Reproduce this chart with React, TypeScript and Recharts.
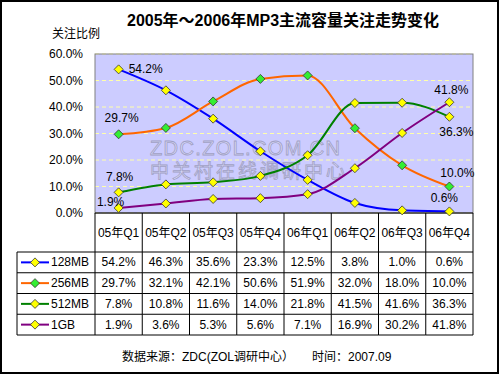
import React from "react";
import {
  LineChart,
  Line,
  XAxis,
  YAxis,
  CartesianGrid,
  ReferenceArea,
  LabelList,
} from "recharts";

const quarters = ["05年Q1", "05年Q2", "05年Q3", "05年Q4", "06年Q1", "06年Q2", "06年Q3", "06年Q4"];
const mb128 = [54.2, 46.3, 35.6, 23.3, 12.5, 3.8, 1.0, 0.6];
const mb256 = [29.7, 32.1, 42.1, 50.6, 51.9, 32.0, 18.0, 10.0];
const mb512 = [7.8, 10.8, 11.6, 14.0, 21.8, 41.5, 41.6, 36.3];
const gb1 = [1.9, 3.6, 5.3, 5.6, 7.1, 16.9, 30.2, 41.8];
const seriesNames = ["128MB", "256MB", "512MB", "1GB"];
const seriesValues = [mb128, mb256, mb512, gb1];
const yTicks = [0, 10, 20, 30, 40, 50, 60];

const FONT = '"Liberation Sans", Arial, "Noto Sans CJK SC", sans-serif';
const lineColors = ["#0000FF", "#FF6600", "#008000", "#800080"];
const dotColors = ["#FFFF00", "#33EE33", "#FFFF00", "#FFFF00"];
// label offsets (dx, dy) for the first and last point of each line
const labelOffsets = [
  { first: [10, 0, "start"], last: [-5, -13, "middle"] },
  { first: [3, -16, "middle"], last: [8, -14, "middle"] },
  { first: [1, -15, "middle"], last: [7, 15, "middle"] },
  { first: [-8, -6, "middle"], last: [2, -12, "middle"] },
];

const data = quarters.map((q, i) => {
  const row: any = { q };
  seriesNames.forEach((name, s) => {
    row[name] = seriesValues[s][i];
  });
  return row;
});

const colW = 378 / 8;
const headH = 39;
const rowH = 20.75;
const legendW = 78;

const Diamond = ({ cx, cy, fill }: { cx: number; cy: number; fill: string }) => (
  <path
    d={`M${cx},${cy - 4.5} L${cx + 4.5},${cy} L${cx},${cy + 4.5} L${cx - 4.5},${cy} Z`}
    fill={fill}
    stroke="#333"
    strokeWidth={0.8}
  />
);

const TableTick = (props: any) => {
  const { x, y, index, payload } = props;
  const left = x - colW / 2;
  const right = x + colW / 2;
  const bottom = y + headH + rowH * 4;
  const legLeft = left - legendW;
  return (
    <g>
      <text x={x} y={y + headH / 2} textAnchor="middle" dominantBaseline="central" fontSize={12} fontFamily={FONT} fill="#000">
        {payload.value}
      </text>
      <line x1={right} y1={y} x2={right} y2={bottom} stroke="#000" />
      {index === 0 && <line x1={left} y1={y} x2={left} y2={bottom} stroke="#000" />}
      {index === 0 && <line x1={legLeft} y1={y + headH} x2={legLeft} y2={bottom} stroke="#000" />}
      {[0, 1, 2, 3, 4].map((r) => (
        <line
          key={r}
          x1={index === 0 ? legLeft : left}
          y1={y + headH + r * rowH}
          x2={right}
          y2={y + headH + r * rowH}
          stroke="#000"
        />
      ))}
      {seriesValues.map((vals, s) => {
        const cy = y + headH + s * rowH + rowH / 2;
        return (
          <g key={s}>
            <text x={x} y={cy} textAnchor="middle" dominantBaseline="central" fontSize={12} fontFamily={FONT} fill="#000">
              {vals[index].toFixed(1) + "%"}
            </text>
            {index === 0 && (
              <g>
                <line x1={legLeft + 4} y1={cy} x2={legLeft + 32} y2={cy} stroke={lineColors[s]} strokeWidth={2} />
                <Diamond cx={legLeft + 18} cy={cy} fill={dotColors[s]} />
                <text x={legLeft + 34} y={cy} dominantBaseline="central" fontSize={12} fontFamily={FONT} fill="#000">
                  {seriesNames[s]}
                </text>
              </g>
            )}
          </g>
        );
      })}
    </g>
  );
};

const makeLabel = (s: number) => (props: any) => {
  const { x, y, index, value } = props;
  const last = quarters.length - 1;
  if (index !== 0 && index !== last) return null;
  const [dx, dy, anchor] = index === 0 ? labelOffsets[s].first : labelOffsets[s].last;
  return (
    <text
      x={x + (dx as number)}
      y={y + (dy as number)}
      textAnchor={anchor as any}
      dominantBaseline="central"
      fontSize={12}
      fontFamily={FONT}
      fill="#000"
    >
      {Number(value).toFixed(1) + "%"}
    </text>
  );
};

const PlotFrame = (p: any) => (
  <g>
    <text
      x={p.x + 55}
      y={p.y + 94}
      dominantBaseline="central"
      fontSize={20}
      fontFamily={FONT}
      textLength={190}
      fill="#D8D8F8"
      stroke="#A0A0C4"
      strokeWidth={0.8}
    >
      ZDC.ZOL.COM.CN
    </text>
    <text
      x={p.x + 55}
      y={p.y + 117}
      dominantBaseline="central"
      fontSize={19}
      fontFamily={FONT}
      textLength={195}
      fill="#D8D8F8"
      stroke="#A0A0C4"
      strokeWidth={0.8}
    >
      中关村在线调研中心
    </text>
    <rect x={p.x} y={p.y} width={p.width} height={p.height} fill="none" stroke="#808080" strokeWidth={1} />
  </g>
);

const App = () => {
  return (
    <div style={{ position: "absolute", left: 0, top: 0, width: 500, height: 375, background: "#fff" }}>
      <LineChart
        width={500}
        height={375}
        data={data}
        margin={{ top: 54, right: 27, left: 0, bottom: 40 }}
      >
        <CartesianGrid vertical={false} fill="#CCCCFF" stroke="#FFFFAA" strokeDasharray="4 3" />
        <ReferenceArea y1={0} y2={60} shape={PlotFrame} ifOverflow="visible" />
        <XAxis
          dataKey="q"
          scale="band"
          interval={0}
          height={122}
          tickSize={0}
          tickMargin={0}
          axisLine={{ stroke: "#000" }}
          tickLine={false}
          tick={<TableTick />}
        />
        <YAxis
          width={95}
          domain={[0, 60]}
          ticks={yTicks}
          tickFormatter={(v: number) => v.toFixed(1) + "%"}
          axisLine={false}
          tickLine={false}
          tickSize={0}
          tickMargin={12}
          tick={{ fontSize: 12, fill: "#000", fontFamily: FONT }}
        />
        {seriesNames.map((name, s) => (
          <Line
            key={name}
            dataKey={name}
            type="monotone"
            stroke={lineColors[s]}
            strokeWidth={2}
            dot={(p: any) => <Diamond key={p.index} cx={p.cx} cy={p.cy} fill={dotColors[s]} />}
            activeDot={false}
            isAnimationActive={false}
          >
            <LabelList dataKey={name} content={makeLabel(s)} />
          </Line>
        ))}
      </LineChart>
      <svg
        width={500}
        height={375}
        style={{ position: "absolute", left: 0, top: 0, pointerEvents: "none" }}
      >
        <rect x={1} y={1} width={497} height={372} fill="none" stroke="#000" strokeWidth={2} />
        <text x={127} y={20} dominantBaseline="central" fontSize={16} fontWeight="bold" fontFamily={FONT} fill="#000">
          2005年～2006年MP3主流容量关注走势变化
        </text>
        <text x={52} y={34} dominantBaseline="central" fontSize={12} fontFamily={FONT} fill="#000">
          关注比例
        </text>
        <text x={122} y={357} dominantBaseline="central" fontSize={12} fontFamily={FONT} fill="#000">
          数据来源：ZDC(ZOL调研中心）
        </text>
        <text x={312} y={357} dominantBaseline="central" fontSize={12} fontFamily={FONT} fill="#000">
          时间：2007.09
        </text>
      </svg>
    </div>
  );
};

export default App;
